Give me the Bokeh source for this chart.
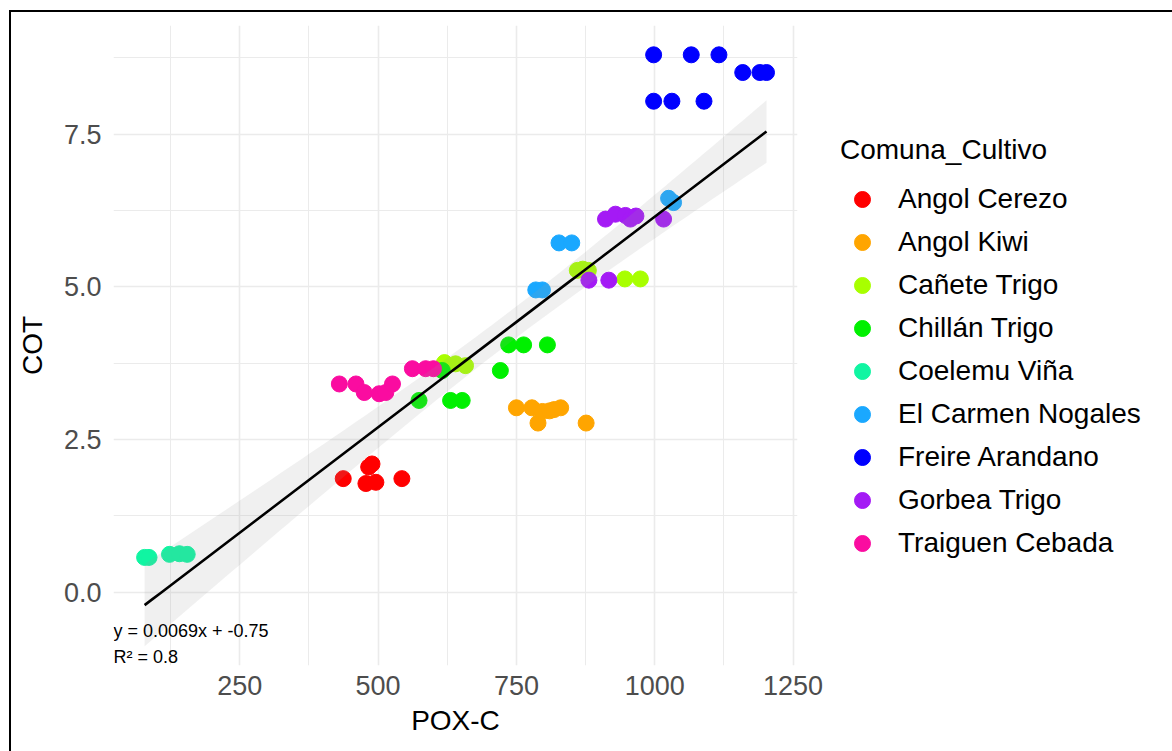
import numpy as np
from bokeh.plotting import figure
from bokeh.models import Range1d, FixedTicker, Legend, LegendItem, Label, ColumnDataSource
from bokeh.embed import file_html
from bokeh.resources import INLINE

# ---------------- data ----------------
groups = ["Angol Cerezo", "Angol Kiwi", "Cañete Trigo", "Chillán Trigo", "Coelemu Viña",
          "El Carmen Nogales", "Freire Arandano", "Gorbea Trigo", "Traiguen Cebada"]
colors = ["#FF0000", "#FFA500", "#A8FF00", "#00F000", "#10F5A2",
          "#1AA8FF", "#0000FF", "#A41AF5", "#FA0CA0"]

angol_cerezo_x = [437, 478, 489, 496, 543, 483]
angol_cerezo_y = [1.86, 1.78, 2.10, 1.80, 1.86, 2.05]
angol_kiwi_x = [750, 778, 789, 797, 810, 818, 830, 876]
angol_kiwi_y = [3.02, 3.02, 2.77, 2.96, 2.97, 2.99, 3.02, 2.77]
canete_x = [620, 640, 658, 860, 870, 880, 946, 974]
canete_y = [3.76, 3.74, 3.71, 5.27, 5.29, 5.27, 5.13, 5.13]
chillan_x = [574, 616, 631, 652, 721, 736, 763, 806]
chillan_y = [3.14, 3.63, 3.14, 3.14, 3.63, 4.05, 4.05, 4.05]
coelemu_x = [78, 86, 123, 141, 155]
coelemu_y = [0.57, 0.57, 0.62, 0.63, 0.62]
carmen_x = [785, 797, 827, 850, 1025, 1034]
carmen_y = [4.95, 4.95, 5.72, 5.72, 6.45, 6.38]
freire_x = [998, 1066, 1116, 1159, 1190, 1202, 998, 1031, 1089]
freire_y = [8.80, 8.80, 8.80, 8.51, 8.51, 8.51, 8.04, 8.04, 8.04]
gorbea_x = [881, 917, 911, 929, 947, 956, 966, 1016]
gorbea_y = [5.11, 5.11, 6.11, 6.19, 6.17, 6.11, 6.16, 6.11]
traiguen_x = [430, 460, 475, 502, 514, 526, 562, 586, 600]
traiguen_y = [3.41, 3.41, 3.27, 3.25, 3.27, 3.41, 3.66, 3.66, 3.66]

xs = [angol_cerezo_x, angol_kiwi_x, canete_x, chillan_x, coelemu_x,
      carmen_x, freire_x, gorbea_x, traiguen_x]
ys = [angol_cerezo_y, angol_kiwi_y, canete_y, chillan_y, coelemu_y,
      carmen_y, freire_y, gorbea_y, traiguen_y]

# regression (as printed on the chart)
SLOPE = 0.0069
INTERCEPT = -0.75
eq_text = "y = 0.0069x + -0.75"
r2_text = "R² = 0.8"
T_975 = 2.0

x_ticks = [250, 500, 750, 1000, 1250]
x_minor = [125, 375, 625, 875, 1125]
y_ticks = [0.0, 2.5, 5.0, 7.5]
y_minor = [1.25, 3.75, 6.25, 8.75]

FONT = "Liberation Sans"

p = figure(width=1159, height=739, frame_width=684, frame_height=640,
           output_backend="svg", toolbar_location=None,
           x_range=Range1d(21.8, 1258), y_range=Range1d(-1.2, 9.28),
           min_border_left=102, min_border_right=0, min_border_top=13, min_border_bottom=86,
           background_fill_color="white", border_fill_color="white",
           styles={"margin-left": "9px", "margin-top": "10px",
                   "border-left": "2px solid black", "border-top": "2px solid black",
                   "border-right": "2px solid black"})
p.outline_line_color = None

p.xaxis.ticker = FixedTicker(ticks=x_ticks, minor_ticks=x_minor)
p.yaxis.ticker = FixedTicker(ticks=y_ticks, minor_ticks=y_minor)
p.yaxis.major_label_overrides = {v: f"{v:.1f}" for v in y_ticks}
for ax in (p.xaxis[0], p.yaxis[0]):
    ax.axis_line_color = None
    ax.major_tick_line_color = None
    ax.minor_tick_line_color = None
    ax.major_tick_in = 0
    ax.major_tick_out = 0
    ax.minor_tick_in = 0
    ax.minor_tick_out = 0
    ax.major_label_text_font = FONT
    ax.major_label_text_font_size = "27px"
    ax.major_label_text_color = "#4D4D4D"
    ax.axis_label_text_font = FONT
    ax.axis_label_text_font_size = "28px"
    ax.axis_label_text_font_style = "normal"
    ax.axis_label_text_color = "black"
p.xaxis.axis_label = "POX-C"
p.yaxis.axis_label = "COT"
p.xaxis.major_label_standoff = 10
p.yaxis.major_label_standoff = 12
p.xaxis.axis_label_standoff = 7
p.yaxis.axis_label_standoff = 13

for g in (p.xgrid[0], p.ygrid[0]):
    g.grid_line_color = "#EBEBEB"
    g.grid_line_width = 1.6
    g.minor_grid_line_color = "#EBEBEB"
    g.minor_grid_line_width = 1.0

items = []
for name, col, gx, gy in zip(groups, colors, xs, ys):
    src = ColumnDataSource(dict(x=gx, y=gy))
    r = p.scatter("x", "y", source=src, size=16, fill_color=col, line_color=col)
    items.append(LegendItem(label=name, renderers=[r]))

# confidence band from residuals around the printed fit
all_x = np.concatenate([np.asarray(a, float) for a in xs])
all_y = np.concatenate([np.asarray(a, float) for a in ys])
n = len(all_x)
resid = all_y - (SLOPE * all_x + INTERCEPT)
s = np.sqrt(np.sum(resid ** 2) / (n - 2))
xbar = all_x.mean()
sxx = np.sum((all_x - xbar) ** 2)
gx = np.linspace(all_x.min(), all_x.max(), 80)
fit = SLOPE * gx + INTERCEPT
se = s * np.sqrt(1.0 / n + (gx - xbar) ** 2 / sxx)
band = ColumnDataSource(dict(x=gx, lo=fit - T_975 * se, hi=fit + T_975 * se, fit=fit))
p.varea(x="x", y1="lo", y2="hi", source=band, fill_color="#999999", fill_alpha=0.15)
p.line(x="x", y="fit", source=band, line_color="black", line_width=2.6)

NARROW = "'Liberation Sans Narrow', 'Arial Narrow', 'Liberation Sans', sans-serif"
p.add_layout(Label(x=21.8, y=-0.63, text=eq_text, text_font=NARROW, text_font_size="18px",
                   text_baseline="middle", text_align="left", text_color="black"))
p.add_layout(Label(x=21.8, y=-1.06, text=r2_text, text_font=NARROW, text_font_size="18px",
                   text_baseline="middle", text_align="left", text_color="black"))

legend = Legend(items=items, location=(43, 102), title="Comuna_Cultivo",
                title_text_font=FONT, title_text_font_size="28px", title_text_font_style="normal",
                title_text_color="black",
                label_text_font=FONT, label_text_font_size="28px", label_text_color="black",
                glyph_width=44, glyph_height=40, label_height=40, label_standoff=14,
                spacing=3, padding=0, margin=0, title_standoff=13,
                background_fill_alpha=0, border_line_alpha=0)
p.add_layout(legend, "right")

open("out.html", "w").write(file_html(p, INLINE))
